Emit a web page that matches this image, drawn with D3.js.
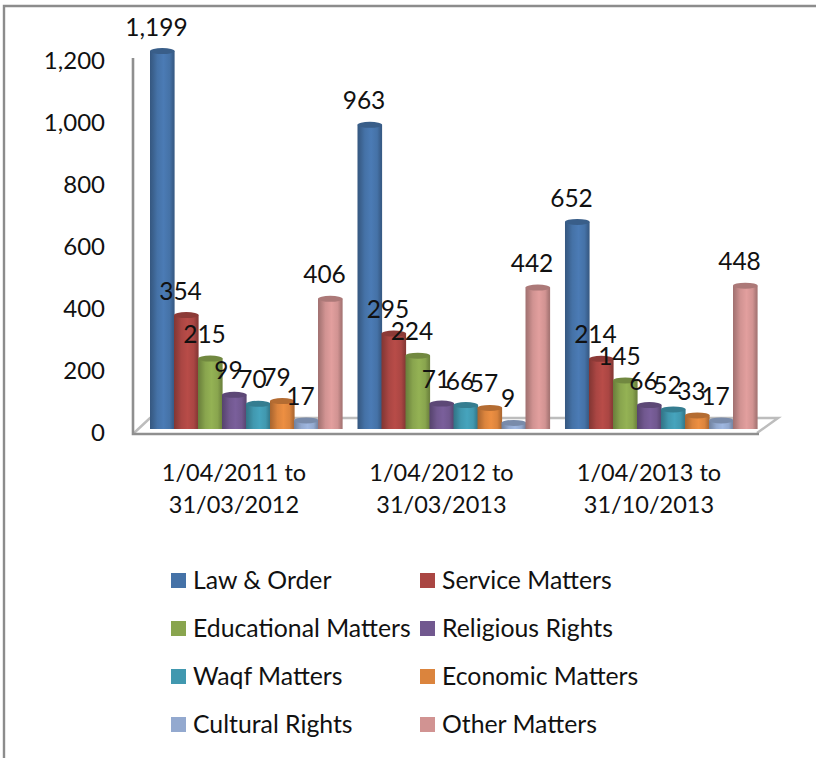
<!DOCTYPE html>
<html><head><meta charset="utf-8">
<style>html,body{margin:0;padding:0;background:#fff}svg{display:block}text{font-family:Lato,"Noto Sans",sans-serif;fill:#111;font-size:24px}</style>
<script src="https://cdn.jsdelivr.net/npm/d3@7/dist/d3.min.js"></script>
</head><body><svg id="c" width="816" height="758"></svg>
<script>
const periods = [["1/04/2011 to","31/03/2012"],["1/04/2012 to","31/03/2013"],["1/04/2013 to","31/10/2013"]];
const seriesNames = ["Law & Order","Service Matters","Educational Matters","Religious Rights","Waqf Matters","Economic Matters","Cultural Rights","Other Matters"];
const period1 = [1199,354,215,99,70,79,17,406];
const period2 = [963,295,224,71,66,57,9,442];
const period3 = [652,214,145,66,52,33,17,448];
const colors = ["#4572A7","#AA4643","#89A54E","#71588F","#4198AF","#DB843D","#93A9CF","#D19392"];
const yTicks = [0,200,400,600,800,1000,1200];
const values = [period1,period2,period3];

const svg = d3.select("#c");
const defs = svg.append("defs");
colors.forEach((c,i)=>{
  const g = defs.append("linearGradient").attr("id","g"+i);
  const base = d3.color(c);
  [[0,base.darker(.75)],[.12,base.darker(.45)],[.3,base],[.55,base.brighter(.22)],[.8,base],[.93,base.darker(.5)],[1,base.darker(.7)]]
    .forEach(([o,col])=>g.append("stop").attr("offset",o).attr("stop-color",col.formatHex()));
});

// frame
svg.append("path").attr("d","M4,758V6H816").attr("fill","none").attr("stroke","#8c8c8c").attr("stroke-width",2.4);

const x0 = d3.scaleBand().domain(d3.range(3)).range([150,757]).paddingInner(0.0746);
const x1 = d3.scaleBand().domain(d3.range(8)).range([0,x0.bandwidth()]);
const yBar = d3.scaleLinear().domain([0,1200]).range([425.7,50.7]);
const yAxis = d3.scaleLinear().domain([0,1200]).range([432,60]);
const barBase = yBar(0)+3.3;

// floor
svg.append("path").attr("d","M134,433L150,418H778L757,433").attr("fill","#fff").attr("stroke","#bdbdbd").attr("stroke-width",2.5);
svg.append("path").attr("d","M133,58V434H759").attr("fill","none").attr("stroke","#8f8f8f").attr("stroke-width",2.6);

// y axis labels
const ax = svg.append("g").attr("transform","translate(105,0)").call(d3.axisLeft(yAxis).tickValues(yTicks).tickSize(0).tickPadding(0).tickFormat(d3.format(",")));
ax.select(".domain").remove();
ax.selectAll("text").attr("dy",".35em").style("font-size","24px").style("font-family","Lato");

// bars
const w = x1.bandwidth();
values.forEach((vals,gi)=>{
  const g = svg.append("g").attr("transform",`translate(${x0(gi)},0)`);
  vals.forEach((v,i)=>{
    const xx = x1(i), top = yBar(v);
    g.append("rect").attr("x",xx).attr("y",top).attr("width",w+.6).attr("height",barBase-top).attr("fill",`url(#g${i})`);
    g.append("ellipse").attr("cx",xx+w/2+.3).attr("cy",top).attr("rx",w/2+.3).attr("ry",3).attr("fill",d3.color(colors[i]).darker(.55).formatHex());
  });
  vals.forEach((v,i)=>{
    g.append("text").attr("x",x1(i)+w/2-5.5).attr("y",yBar(v)-24).attr("dy",".35em").attr("text-anchor","middle").style("font-size","24.5px").text(d3.format(",")(v));
  });
});

// category labels
periods.forEach((p,gi)=>{
  p.forEach((line,li)=>{
    svg.append("text").attr("x",x0(gi)+x0.bandwidth()/2-12).attr("y",473+li*32).attr("dy",".35em").attr("text-anchor","middle").style("font-size","23.5px").text(line);
  });
});

// legend
seriesNames.forEach((n,i)=>{
  const col = i%2, row = Math.floor(i/2);
  const lx = col?420:171, ly = 573+row*48;
  svg.append("rect").attr("x",lx).attr("y",ly).attr("width",15).attr("height",15).attr("fill",colors[i]);
  svg.append("text").attr("x",lx+22).attr("y",ly+7).attr("dy",".35em").style("font-size","24.8px").text(n);
});
</script></body></html>
